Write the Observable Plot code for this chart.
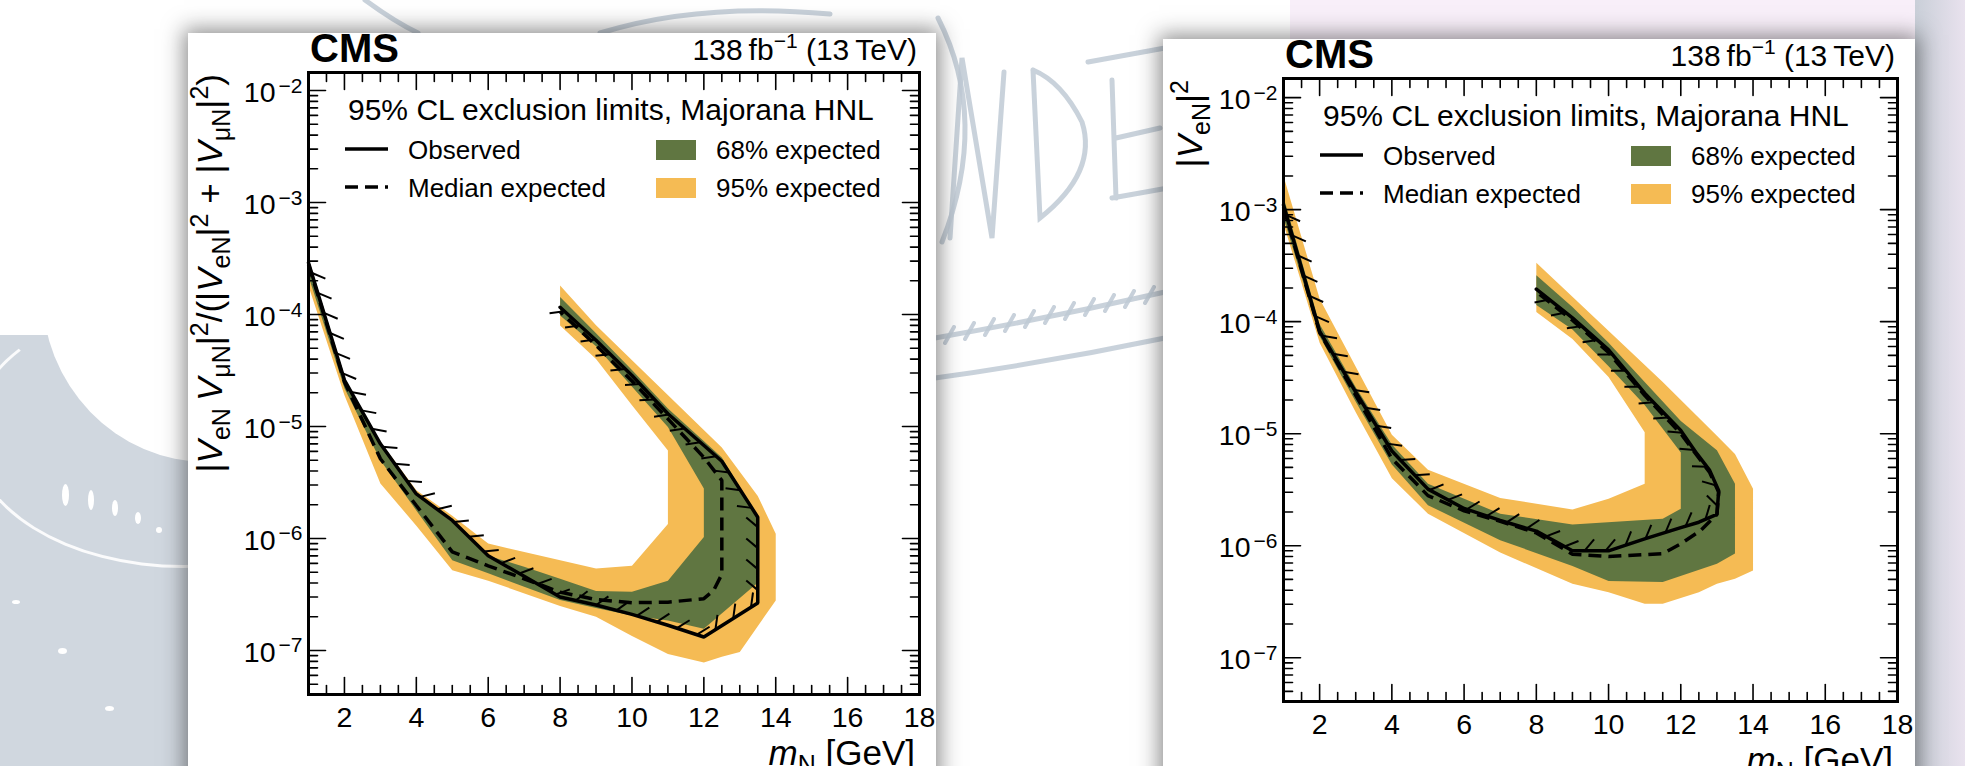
<!DOCTYPE html>
<html>
<head>
<meta charset="utf-8">
<script src="https://cdn.jsdelivr.net/npm/d3@7"></script>
<script src="https://cdn.jsdelivr.net/npm/@observablehq/plot@0.6"></script>
<style>
html,body{margin:0;padding:0;width:1965px;height:766px;overflow:hidden;background:#fff;}
#stage{position:relative;width:1965px;height:766px;overflow:hidden;background:#fff;}
.deco{position:absolute;}
.card{position:absolute;background:#fff;box-shadow:0 0 20px 4px rgba(30,30,30,0.5);}
.panel{position:absolute;}
.panel svg{display:block;}
</style>
</head>
<body>
<div id="stage">
  <div class="deco" style="left:0;top:335px;width:200px;height:431px;background:#d0d7df"></div>
  <div class="deco" style="left:42px;top:120px;width:330px;height:342px;border-radius:50%;background:#fff"></div>
  <div class="deco" style="left:-30px;top:300px;width:420px;height:262px;border-radius:50%;border:3px solid rgba(255,255,255,0.9);border-top-color:transparent;border-right-color:transparent"></div>
  <div class="deco" style="left:62px;top:484px;width:7px;height:22px;border-radius:50%;background:#fff"></div>
  <div class="deco" style="left:88px;top:490px;width:6px;height:20px;border-radius:50%;background:#fff"></div>
  <div class="deco" style="left:112px;top:500px;width:6px;height:16px;border-radius:50%;background:#fff"></div>
  <div class="deco" style="left:135px;top:512px;width:6px;height:12px;border-radius:50%;background:#fff"></div>
  <div class="deco" style="left:156px;top:527px;width:6px;height:6px;border-radius:50%;background:#fff"></div>
  <div class="deco" style="left:12px;top:600px;width:8px;height:4px;border-radius:50%;background:#fff"></div>
  <div class="deco" style="left:58px;top:648px;width:9px;height:6px;border-radius:50%;background:#fff"></div>
  <div class="deco" style="left:105px;top:706px;width:9px;height:5px;border-radius:50%;background:#fff"></div>
  <div class="deco" style="left:1290px;top:0;width:675px;height:60px;background:#f8eff9"></div>
  <div class="deco" style="left:1915px;top:0;width:50px;height:766px;background:linear-gradient(90deg,#c9cfd8,#e9e2ee)"></div>
  <svg class="deco" id="sketch" style="left:0;top:0" width="1965" height="766"></svg>
  <div class="card" style="left:188px;top:33px;width:748px;height:760px"></div>
  <div class="card" style="left:1163px;top:39px;width:752px;height:760px"></div>
  <div class="panel" id="panelL" style="left:168px;top:13px"></div>
  <div class="panel" id="panelR" style="left:1143px;top:19px"></div>
</div>
<script>
// ---------- axis ticks ----------
const xDomain = [1, 18];
const xMajor = [2, 4, 6, 8, 10, 12, 14, 16];
const xLabels = [2, 4, 6, 8, 10, 12, 14, 16, 18];
const xMinor = [1.5, 2.5, 3, 3.5, 4.5, 5, 5.5, 6.5, 7, 7.5, 8.5, 9, 9.5, 10.5, 11, 11.5, 12.5, 13, 13.5, 14.5, 15, 15.5, 16.5, 17, 17.5];
const yMajor = [1e-7, 1e-6, 1e-5, 1e-4, 1e-3, 1e-2];
const yMinorMult = [2, 3, 4, 5, 6, 7, 8, 9];

// ---------- left panel: |VeN VmuN|^2/(|VeN|^2+|VmuN|^2) ----------
const leftObsX = [1, 2, 3, 4, 5, 6, 7, 8, 9, 10, 11, 12, 13.5, 13.5, 12.5, 11, 10, 9, 8];
const leftObsY = [2.9e-4, 2.6e-5, 7.0e-6, 2.5e-6, 1.45e-6, 7.0e-7, 4.6e-7, 3.0e-7, 2.55e-7, 2.1e-7, 1.68e-7, 1.32e-7, 2.65e-7, 1.55e-6, 4.9e-6, 1.3e-5, 2.85e-5, 5.9e-5, 1.16e-4];
const leftExpX = [1, 2, 3, 4, 5, 6, 7, 8, 9, 10, 11, 12, 12.27, 12.5, 12.5, 12, 11, 10, 9, 8];
const leftExpY = [2.8e-4, 2.5e-5, 5.15e-6, 1.97e-6, 7.6e-7, 5.7e-7, 4.37e-7, 3.32e-7, 2.85e-7, 2.67e-7, 2.7e-7, 2.9e-7, 3.43e-7, 4.8e-7, 3.3e-6, 5.3e-6, 1.17e-5, 2.55e-5, 5.3e-5, 1.06e-4];
const left68X = [1, 2, 3, 4, 5, 6, 7, 8, 9, 10, 11, 12, 13.45, 13.5, 12.5, 11, 10, 9, 8, 8, 9, 11, 12, 12, 11, 10, 9, 8, 7, 6, 5, 4, 3, 2, 1];
const left68Y = [2.2e-4, 2.2e-5, 5.0e-6, 1.78e-6, 6.4e-7, 4.9e-7, 3.7e-7, 2.83e-7, 2.4e-7, 2.05e-7, 1.85e-7, 1.56e-7, 3.9e-7, 1.55e-6, 5.3e-6, 1.45e-5, 3.2e-5, 6.8e-5, 1.43e-4, 9.8e-5, 5.2e-5, 9.9e-6, 2.8e-6, 1.03e-6, 4.2e-7, 3.35e-7, 3.4e-7, 4.37e-7, 5.6e-7, 7.0e-7, 1.4e-6, 2.45e-6, 6.8e-6, 2.55e-5, 2.85e-4];
const left95X = [1, 2, 3, 4, 5, 6, 8, 9, 10, 11, 12, 12.5, 13, 14, 14, 13.5, 12.5, 9, 8, 8, 9, 10, 11, 11, 10, 9, 6, 5, 4, 3, 2, 1];
const left95Y = [1.8e-4, 1.9e-5, 3.1e-6, 1.3e-6, 5.2e-7, 4.2e-7, 2.5e-7, 2.0e-7, 1.35e-7, 9.3e-8, 7.8e-8, 8.8e-8, 9.7e-8, 2.8e-7, 1.1e-6, 2.4e-6, 6.5e-6, 8.0e-5, 1.82e-4, 7.97e-5, 4.0e-5, 1.55e-5, 6.1e-6, 1.35e-6, 5.7e-7, 5.4e-7, 9.0e-7, 1.6e-6, 2.7e-6, 7.3e-6, 2.7e-5, 3.1e-4];

// ---------- right panel: |VeN|^2 ----------
const rightObsX = [1, 2, 3, 4, 5, 6, 7, 8, 9, 10, 11, 12, 12.5, 13, 13.05, 12.8, 12.45, 12, 11, 10, 9, 8];
const rightObsY = [1.1e-3, 8.2e-5, 2.35e-5, 7.0e-6, 3.2e-6, 2.15e-6, 1.68e-6, 1.35e-6, 9.0e-7, 9.0e-7, 1.15e-6, 1.45e-6, 1.62e-6, 1.9e-6, 3.1e-6, 4.7e-6, 6.6e-6, 1.07e-5, 2.3e-5, 5.6e-5, 1.08e-4, 1.95e-4];
const rightExpX = [1, 2, 3, 4, 5, 6, 7, 8, 9, 10, 11.5, 12, 12.55, 13, 13.05, 12.8, 12, 11, 10, 9, 8];
const rightExpY = [1.05e-3, 8.0e-5, 2.2e-5, 6.0e-6, 2.8e-6, 2.05e-6, 1.65e-6, 1.3e-6, 8.4e-7, 8.0e-7, 8.5e-7, 1.04e-6, 1.37e-6, 1.9e-6, 3.0e-6, 4.5e-6, 1.0e-5, 2.2e-5, 5.3e-5, 1.03e-4, 1.85e-4];
const right68X = [1, 2, 3, 4, 5, 7, 9, 10, 11.5, 13, 13.5, 13.5, 13, 12, 11, 10, 9, 8, 8, 9, 10, 11, 12, 12, 11.5, 9, 7, 5, 4, 3, 2, 1];
const right68Y = [8.5e-4, 7.4e-5, 1.93e-5, 5.3e-6, 2.3e-6, 1.12e-6, 6.6e-7, 4.85e-7, 4.75e-7, 6.9e-7, 8.5e-7, 3.57e-6, 7.1e-6, 1.3e-5, 2.9e-5, 6.5e-5, 1.35e-4, 2.6e-4, 1.41e-4, 8.5e-5, 4.0e-5, 1.8e-5, 6.8e-6, 2.14e-6, 1.74e-6, 1.55e-6, 1.93e-6, 3.57e-6, 8.0e-6, 2.6e-5, 9.5e-5, 1.3e-3];
const right95X = [1, 2, 3, 4, 5, 7, 9, 10, 11, 11.5, 12.5, 13, 13.5, 14, 14, 13.5, 13, 11.5, 9, 8, 8, 9, 10, 11, 11, 10, 9, 7, 5, 4, 2, 1];
const right95Y = [7.5e-4, 6.5e-5, 1.55e-5, 4.0e-6, 1.93e-6, 8.7e-7, 4.57e-7, 3.85e-7, 3.03e-7, 3.03e-7, 3.85e-7, 4.57e-7, 5.06e-7, 6.0e-7, 3.22e-6, 6.6e-6, 9.6e-6, 2.9e-5, 1.67e-4, 3.36e-4, 1.22e-4, 7.0e-5, 3.2e-5, 1.03e-5, 3.57e-6, 2.62e-6, 2.1e-6, 2.67e-6, 4.76e-6, 9.8e-6, 1.6e-4, 2.0e-3];

// ---------- text ----------
const lumiMain = "138\u2009fb", lumiSup = "\u22121", lumiTail = " (13\u2009TeV)";
const legendTitle = "95% CL exclusion limits, Majorana HNL";
const legendObs = "Observed", legendExp = "Median expected", legend68 = "68% expected", legend95 = "95% expected";

const GREEN = "#607641", ORANGE = "#F5BB54";
const FONT = "'Liberation Sans', Arial, Helvetica, sans-serif";

function rows(xs, ys) { return xs.map((x, i) => ({x, y: ys[i]})); }

function makeScales(cfg) {
  const rx = [cfg.ml, cfg.W - cfg.mr], ry = [cfg.H - cfg.mb, cfg.mt];
  try {
    const X = Plot.scale({x: {type: "linear", domain: xDomain, range: rx}});
    const Y = Plot.scale({y: {type: "log", domain: cfg.yDomain, range: ry}});
    if (typeof X.apply !== "function" || typeof X.invert !== "function") throw new Error("no apply");
    return {fx: v => X.apply(v), ix: p => X.invert(p), fy: v => Y.apply(v), iy: p => Y.invert(p)};
  } catch (e) {
    const dx = d3.scaleLinear(xDomain, rx), dy = d3.scaleLog(cfg.yDomain, ry);
    return {fx: dx, ix: p => dx.invert(p), fy: dy, iy: p => dy.invert(p)};
  }
}

// hatches along the observed limit, toward the excluded side
function hatchSegments(xs, ys, S, spacing, len, angleDeg) {
  const P = xs.map((x, i) => [S.fx(x), S.fy(ys[i])]);
  const out = [];
  const th = angleDeg * Math.PI / 180, c = Math.cos(th), s = Math.sin(th);
  let carry = spacing / 2;
  for (let i = 0; i < P.length - 1; i++) {
    const [x0, y0] = P[i], [x1, y1] = P[i + 1];
    const L = Math.hypot(x1 - x0, y1 - y0);
    if (!L) continue;
    const tx = (x1 - x0) / L, ty = (y1 - y0) / L;
    const nx = ty, ny = -tx;
    const hx = nx * c - ny * s, hy = nx * s + ny * c;
    let d = carry;
    while (d <= L) {
      const px = x0 + tx * d, py = y0 + ty * d;
      out.push({x1: S.ix(px), y1: S.iy(py), x2: S.ix(px + hx * len), y2: S.iy(py + hy * len)});
      d += spacing;
    }
    carry = d - L;
  }
  return out;
}

const tickShape = {draw(ctx, l) { ctx.moveTo(0, 0); ctx.lineTo(0, -l); }};
let vecOK = true;
try { Plot.vector([0], {x: d => d, shape: tickShape}); } catch (e) { vecOK = false; }

function tickMarks(cfg) {
  const yMinor = yMajor.concat([1e-8]).flatMap(d => yMinorMult.map(m => d * m))
    .filter(v => v > cfg.yDomain[0] && v < cfg.yDomain[1] && !yMajor.includes(v));
  const base = vecOK ? {stroke: "black", strokeWidth: 1.6, anchor: "start", shape: tickShape}
                     : {stroke: "black", strokeWidth: 1.6, anchor: "start", shape: "spike", r: 0.6, fill: "black"};
  const ms = [];
  const sides = [
    ["bottom", 0, "x"], ["top", 180, "x"], ["left", 90, "y"], ["right", -90, "y"]
  ];
  for (const [anchor, rot, ch] of sides) {
    const maj = ch === "x" ? xMajor : yMajor;
    const min = ch === "x" ? xMinor : yMinor;
    ms.push(Plot.vector(maj, {[ch]: d => d, frameAnchor: anchor, length: 17, rotate: rot, ...base}));
    ms.push(Plot.vector(min, {[ch]: d => d, frameAnchor: anchor, length: 9, rotate: rot, ...base}));
  }
  return ms;
}

function rich(g, x, y, parts, opt = {}) {
  const t = g.append("text")
    .attr("transform", `translate(${x},${y})` + (opt.rotate ? ` rotate(${opt.rotate})` : ""))
    .attr("text-anchor", opt.anchor || "start")
    .attr("font-family", FONT)
    .attr("font-size", opt.size || 30)
    .attr("font-weight", opt.weight || "normal")
    .attr("fill", "black");
  let cur = 0;
  for (const p of parts) {
    const sp = t.append("tspan").text(p.t);
    const sh = p.shift || 0;
    if (sh !== cur) { sp.attr("dy", sh - cur); cur = sh; }
    if (p.size) sp.attr("font-size", p.size);
    if (p.italic) sp.attr("font-style", "italic");
  }
  return t;
}

function buildPanel(cfg) {
  const S = makeScales(cfg);
  const hatch = hatchSegments(cfg.obsX, cfg.obsY, S, 21, 15, 40);
  const svg = Plot.plot({
    width: cfg.W, height: cfg.H,
    marginLeft: cfg.ml, marginRight: cfg.mr, marginTop: cfg.mt, marginBottom: cfg.mb,
    x: {type: "linear", domain: xDomain, axis: null},
    y: {type: "log", domain: cfg.yDomain, axis: null},
    style: {background: "none", fontFamily: FONT, color: "black", overflow: "visible"},
    marks: [
      Plot.line(rows(cfg.b95X, cfg.b95Y), {x: "x", y: "y", fill: ORANGE, stroke: "none"}),
      Plot.line(rows(cfg.b68X, cfg.b68Y), {x: "x", y: "y", fill: GREEN, stroke: "none"}),
      Plot.line(rows(cfg.expX, cfg.expY), {x: "x", y: "y", stroke: "black", strokeWidth: 3.5, strokeDasharray: "13,7", strokeLinejoin: "miter", strokeLinecap: "butt"}),
      Plot.link(hatch, {x1: "x1", y1: "y1", x2: "x2", y2: "y2", stroke: "black", strokeWidth: 2}),
      Plot.line(rows(cfg.obsX, cfg.obsY), {x: "x", y: "y", stroke: "black", strokeWidth: 3.5, strokeLinejoin: "miter"}),
      ...tickMarks(cfg),
      Plot.frame({stroke: "black", strokeWidth: 3}),
      Plot.text(xLabels, {x: d => d, frameAnchor: "bottom", text: d => String(d), lineAnchor: "bottom", dy: 32, fontSize: 28.5, fill: "black"}),
      Plot.text(yMajor, {y: d => d, frameAnchor: "left", text: () => "10", textAnchor: "end", lineAnchor: "bottom", dx: -33, dy: 11.5, fontSize: 28.5, fill: "black"}),
      Plot.text(yMajor, {y: d => d, frameAnchor: "left", text: d => "\u2212" + Math.round(-Math.log10(d)), textAnchor: "end", lineAnchor: "bottom", dx: -6, dy: 2, fontSize: 21, fill: "black"})
    ]
  });
  const g = d3.select(svg).append("g");
  const fl = cfg.ml, ft = cfg.mt, fr = cfg.W - cfg.mr, fb = cfg.H - cfg.mb;
  // header
  rich(g, fl + 2, ft - 10, [{t: "CMS"}], {size: 40, weight: "bold"});
  rich(g, fr - 2, ft - 12, [{t: lumiMain}, {t: lumiSup, size: 21, shift: -12}, {t: lumiTail}], {size: 30, anchor: "end"});
  // axis titles (x title sits at the page's bottom edge, as in the original)
  rich(g, fl + cfg.yLabelDx, ft + 2, cfg.yLabel, {size: 35, anchor: "end", rotate: -90});
  rich(g, fr - 4, fb + 71, [{t: "m", italic: true}, {t: "N", size: 25, shift: 8}, {t: " [GeV]"}], {size: 35, anchor: "end"});
  // legend
  rich(g, fl + 40, ft + 48, [{t: legendTitle}], {size: 30});
  g.append("line").attr("x1", fl + 37).attr("x2", fl + 80).attr("y1", ft + 77).attr("y2", ft + 77)
    .attr("stroke", "black").attr("stroke-width", 3.5);
  rich(g, fl + 100, ft + 87, [{t: legendObs}], {size: 26});
  g.append("line").attr("x1", fl + 37).attr("x2", fl + 80).attr("y1", ft + 115).attr("y2", ft + 115)
    .attr("stroke", "black").attr("stroke-width", 3.5).attr("stroke-dasharray", "13,7");
  rich(g, fl + 100, ft + 125, [{t: legendExp}], {size: 26});
  g.append("rect").attr("x", fl + 348).attr("y", ft + 68).attr("width", 40).attr("height", 20).attr("fill", GREEN);
  rich(g, fl + 408, ft + 87, [{t: legend68}], {size: 26});
  g.append("rect").attr("x", fl + 348).attr("y", ft + 106).attr("width", 40).attr("height", 20).attr("fill", ORANGE);
  rich(g, fl + 408, ft + 125, [{t: legend95}], {size: 26});
  return svg;
}

const SUB = {size: 25, shift: 8}, SUP = {size: 25, shift: -14};
const leftYLabel = [
  {t: "|"}, {t: "V", italic: true}, {t: "eN", ...SUB}, {t: "\u2009"}, {t: "V", italic: true}, {t: "\u03bcN", ...SUB},
  {t: "|"}, {t: "2", ...SUP}, {t: "/(|"}, {t: "V", italic: true}, {t: "eN", ...SUB}, {t: "|"}, {t: "2", ...SUP},
  {t: " + |"}, {t: "V", italic: true}, {t: "\u03bcN", ...SUB}, {t: "|"}, {t: "2", ...SUP}, {t: ")"}
];
const rightYLabel = [{t: "|"}, {t: "V", italic: true}, {t: "eN", ...SUB}, {t: "|"}, {t: "2", ...SUP}];

// panels: svg origin 20px left/up of the white card, extends below the page edge
document.getElementById("panelL").appendChild(buildPanel({
  W: 768, H: 790, ml: 140, mr: 17, mt: 59, mb: 109,
  yDomain: [Math.pow(10, -7.393), Math.pow(10, -1.839)],
  obsX: leftObsX, obsY: leftObsY, expX: leftExpX, expY: leftExpY,
  b68X: left68X, b68Y: left68Y, b95X: left95X, b95Y: left95Y,
  yLabel: leftYLabel, yLabelDx: -86
}));
document.getElementById("panelR").appendChild(buildPanel({
  W: 772, H: 790, ml: 140, mr: 18, mt: 59, mb: 108,
  yDomain: [Math.pow(10, -7.391), Math.pow(10, -1.829)],
  obsX: rightObsX, obsY: rightObsY, expX: rightExpX, expY: rightExpY,
  b68X: right68X, b68Y: right68Y, b95X: right95X, b95Y: right95Y,
  yLabel: rightYLabel, yLabelDx: -81
}));

// ---------- decorative background sketch ----------
const sk = d3.select("#sketch");
const skStroke = "#bfcad5";
const skPaths = [
  "M938,18 Q990,120 942,242",
  "M950,238 L962,58 L992,238 L1004,72",
  "M1033,70 L1040,218 Q1098,172 1082,122 Q1062,82 1033,70",
  "M1088,62 L1165,48 M1112,80 L1116,198 M1116,138 L1160,128 M1112,198 L1168,188",
  "M935,378 Q1050,362 1165,338",
  "M935,338 Q1050,318 1165,292",
  "M365,0 Q395,22 418,33",
  "M600,33 Q700,2 830,14"
];
skPaths.forEach(d => sk.append("path").attr("d", d).attr("fill", "none").attr("stroke", skStroke)
  .attr("stroke-width", 5).attr("stroke-linecap", "round").attr("opacity", 0.85));
for (let x = 945; x < 1165; x += 20) {
  const yb = 345 - (x - 935) * 0.2;
  sk.append("path").attr("d", `M${x},${yb} L${x + 9},${yb - 16}`).attr("stroke", skStroke)
    .attr("stroke-width", 4).attr("stroke-linecap", "round").attr("opacity", 0.85);
}
</script>
</body>
</html>
